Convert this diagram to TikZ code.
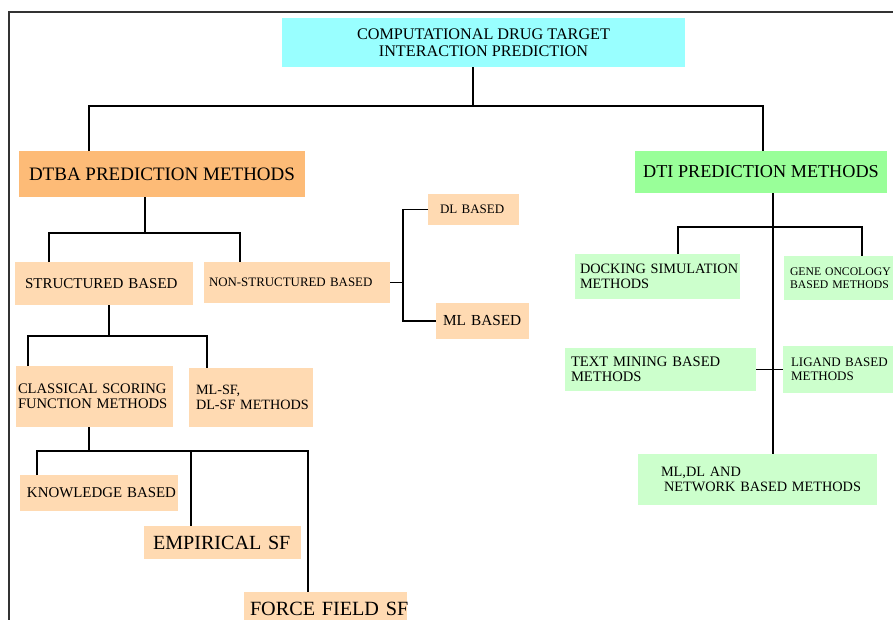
\documentclass[tikz,border=0pt]{standalone}
\usepackage{fontspec}
\setmainfont{Liberation Serif}

\definecolor{rootcyan}{HTML}{99FFFF}
\definecolor{dtbaorange}{HTML}{FDBB77}
\definecolor{peach}{HTML}{FFDAB2}
\definecolor{dtigreen}{HTML}{99FF99}
\definecolor{mint}{HTML}{CCFFCC}
\definecolor{framegray}{HTML}{333333}

\newcommand{\setfs}[2]{\fontsize{#1pt}{#2pt}\selectfont}

\tikzset{
  cbox/.style={inner sep=0pt, outer sep=0pt, draw=none, align=center, text=black},
  lbox/.style={inner ysep=0pt, outer sep=0pt, draw=none, align=left, text=black},
  link/.style={line width=1.6pt, black},
}

\begin{document}
\begin{tikzpicture}[x=1pt, y=-1pt]
\useasboundingbox (0,0) rectangle (893,619);
\begin{scope}
\clip (0,0) rectangle (893,619);

% page frame
\draw[framegray, line width=1.2pt] (9,640) -- (9,12) -- (900,12);

% top level
\node[cbox, fill=rootcyan, minimum width=403pt, minimum height=49pt,
      font=\setfs{16.2}{17}] (root) at (483.5,42.5)
      {COMPUTATIONAL DRUG TARGET\\INTERACTION PREDICTION};

% main branches
\node[cbox, fill=dtbaorange, minimum width=286pt, minimum height=46pt,
      font=\setfs{19}{22}] (dtba) at (162,174) {DTBA PREDICTION METHODS};
\node[cbox, fill=dtigreen, minimum width=252pt, minimum height=42pt,
      font=\setfs{18.2}{21}] (dti) at (761,172) {DTI PREDICTION METHODS};

% DTBA subtree
\node[lbox, fill=peach, minimum width=178pt, minimum height=43pt, text width=158pt,
      inner xsep=10pt, font=\setfs{15}{17}] (sb) at (104,283.5) {\mbox{STRUCTURED BASED}};
\node[lbox, fill=peach, minimum width=186pt, minimum height=41pt, text width=176pt,
      inner xsep=5pt, font=\setfs{12.9}{15}] (nsb) at (297,282.5) {\mbox{NON-STRUCTURED BASED}};
\node[lbox, fill=peach, minimum width=91pt, minimum height=31pt, text width=67pt,
      inner xsep=12pt, font=\setfs{13}{15}] (dl) at (473.5,209.5) {\mbox{DL BASED}};
\node[lbox, fill=peach, minimum width=93pt, minimum height=36pt, text width=79pt,
      inner xsep=7pt, font=\setfs{15.3}{17}] (ml) at (482.5,321) {\mbox{ML BASED}};
\node[lbox, fill=peach, minimum width=157pt, minimum height=61pt, text width=153pt,
      inner xsep=2pt, font=\setfs{14.6}{15}] (csf) at (94.5,396.5)
      {\mbox{CLASSICAL SCORING}\\\mbox{FUNCTION METHODS}};
\node[lbox, fill=peach, minimum width=124pt, minimum height=59pt, text width=110pt,
      inner xsep=7pt, font=\setfs{14.2}{14.5}] (mlsf) at (251,397.5)
      {\mbox{ML-SF,}\\\mbox{DL-SF METHODS}};
\node[lbox, fill=peach, minimum width=158pt, minimum height=36pt, text width=144pt,
      inner xsep=7pt, font=\setfs{14.9}{17}] (kb) at (99,493) {\mbox{KNOWLEDGE BASED}};
\node[lbox, fill=peach, minimum width=157pt, minimum height=33pt, text width=139pt,
      inner xsep=9pt, font=\setfs{20.1}{22}] (esf) at (222.5,542.5) {\mbox{EMPIRICAL SF}};
\node[lbox, fill=peach, minimum width=163pt, minimum height=33pt, text width=151pt,
      inner xsep=6pt, font=\setfs{20.2}{22}] (ffsf) at (325.5,608.5) {\mbox{FORCE FIELD SF}};

% DTI subtree
\node[lbox, fill=mint, minimum width=165pt, minimum height=45pt, text width=155pt,
      inner xsep=5pt, font=\setfs{14.3}{15}] (dock) at (657.5,276.5)
      {\mbox{DOCKING SIMULATION}\\\mbox{METHODS}};
\node[lbox, fill=mint, minimum width=121pt, minimum height=44pt, text width=109pt,
      inner xsep=6pt, font=\setfs{11.7}{13}] (gene) at (844.5,278)
      {\mbox{GENE ONCOLOGY}\\\mbox{BASED METHODS}};
\node[lbox, fill=mint, minimum width=191pt, minimum height=43pt, text width=179pt,
      inner xsep=6pt, font=\setfs{14.6}{15}] (tm) at (660.5,369.5)
      {\mbox{TEXT MINING BASED}\\\mbox{METHODS}};
\node[lbox, fill=mint, minimum width=117pt, minimum height=47pt, text width=101pt,
      inner xsep=8pt, font=\setfs{13}{14}] (lig) at (841.5,369.5)
      {\mbox{LIGAND BASED}\\\mbox{METHODS}};
\node[lbox, fill=mint, minimum width=239pt, minimum height=51pt, text width=193pt,
      inner xsep=23pt, font=\setfs{14.3}{14.5}] (mldl) at (757.5,479.5)
      {\mbox{ML,DL AND}\\\mbox{\hspace*{3pt}NETWORK BASED METHODS}};

% connectors: root
\draw[link] ([xshift=-10.5pt]root.south) -- ++(0,39);
\draw[link] ([xshift=-73pt]dtba.north) -- ++(0,-45) -| ([xshift=2pt]dti.north);

% connectors: DTBA
\draw[link] ([xshift=-17pt]dtba.south) -- ++(0,36);
\draw[link] ([xshift=-55pt]sb.north) -- ++(0,-29) -| ([xshift=-57pt]nsb.north);
\draw[link] (nsb.east) -- ++(13,0) coordinate (nsj);
\draw[link] (dl.west) -| (nsj) |- (ml.west);
\draw[link] ([xshift=5pt]sb.south) -- ++(0,31);
\draw[link] ([xshift=-66.5pt]csf.north) -- ++(0,-30) -| ([xshift=-44pt]mlsf.north);
\draw[link] ([xshift=-5.5pt]csf.south) -- ++(0,24);
\draw[link] ([xshift=-62pt]kb.north) -- ++(0,-24) -| ([xshift=-17.5pt]ffsf.north);
\draw[link] ([xshift=-31.5pt]esf.north) -- ++(0,-75);

% connectors: DTI
\draw[link] ([xshift=12pt]dti.south) -- ([xshift=15.5pt]mldl.north);
\draw[link, line width=1.2pt] ([xshift=20.5pt]dock.north) -- ++(0,-27) -| ([xshift=17.5pt]gene.north);
\draw[link] (tm.east) -- (lig.west);
\end{scope}
\end{tikzpicture}
\end{document}
